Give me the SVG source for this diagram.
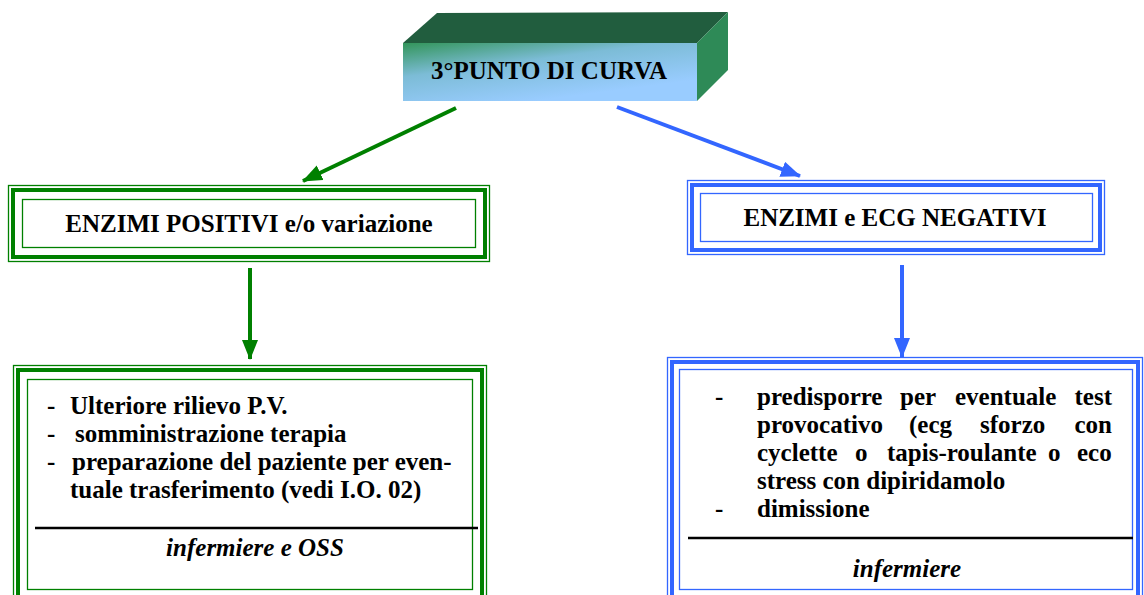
<svg xmlns="http://www.w3.org/2000/svg" width="1144" height="595" viewBox="0 0 1144 595">
<style>
  .t { font-family: "Liberation Serif", "Times New Roman", serif; font-weight: bold; font-size: 25px; fill: #000; }
  .it { font-style: italic; }
  .gthin { fill: none; stroke: #008000; stroke-width: 1.3; }
  .gthick { fill: none; stroke: #008000; stroke-width: 4; }
  .bthin { fill: none; stroke: #3366ff; stroke-width: 1.3; }
  .bthick { fill: none; stroke: #3366ff; stroke-width: 4; }
  .div { stroke: #000; stroke-width: 2.5; }
  .gline { stroke: #008000; stroke-width: 4; fill: none; }
  .bline { stroke: #3366ff; stroke-width: 4; fill: none; }
</style>
<defs>
  <linearGradient id="front" x1="0" y1="0" x2="0.6" y2="0.9">
    <stop offset="0" stop-color="#33955a"/>
    <stop offset="0.45" stop-color="#7cbcd6"/>
    <stop offset="1" stop-color="#99ccff"/>
  </linearGradient>
  <marker id="ag" markerUnits="userSpaceOnUse" markerWidth="22" markerHeight="18" refX="19" refY="8" orient="auto">
    <path d="M0,0 L20,8 L0,16 z" fill="#008000"/>
  </marker>
  <marker id="ab" markerUnits="userSpaceOnUse" markerWidth="22" markerHeight="18" refX="19" refY="8" orient="auto">
    <path d="M0,0 L20,8 L0,16 z" fill="#3366ff"/>
  </marker>
</defs>
<rect width="1144" height="595" fill="#fff"/>

<g id="title">
  <polygon points="403,43 437,13 728,12 697,43" fill="#215d3e"/>
  <polygon points="697,43 728,12 728,70 697,101" fill="#2e8a57"/>
  <rect x="403" y="43" width="294" height="58" fill="url(#front)"/>
  <text class="t" x="549" y="79" text-anchor="middle">3°PUNTO DI CURVA</text>
</g>

<g id="connectors">
  <line class="gline" x1="456" y1="108" x2="303" y2="181" marker-end="url(#ag)"/>
  <line class="bline" x1="617" y1="107" x2="800" y2="176" marker-end="url(#ab)"/>
  <line class="gline" x1="250" y1="268" x2="250" y2="359" marker-end="url(#ag)"/>
  <line class="bline" x1="902" y1="265" x2="902" y2="357" marker-end="url(#ab)"/>
</g>

<g id="enzimi-positivi">
  <rect class="gthin" x="8.5" y="185.5" width="481" height="76"/>
  <rect class="gthick" x="13" y="190" width="472" height="67"/>
  <rect class="gthin" x="22.5" y="199.5" width="453" height="48"/>
  <text class="t" x="249" y="232" text-anchor="middle">ENZIMI POSITIVI e/o variazione</text>
</g>

<g id="enzimi-negativi">
  <rect class="bthin" x="687.5" y="180.5" width="417" height="74"/>
  <rect class="bthick" x="692" y="185" width="408" height="65"/>
  <rect class="bthin" x="700.5" y="193.5" width="392" height="48"/>
  <text class="t" x="895" y="226" text-anchor="middle">ENZIMI e ECG NEGATIVI</text>
</g>

<g id="azioni-positivi">
  <rect class="gthin" x="13.5" y="365.5" width="473" height="240"/>
  <rect class="gthick" x="18" y="370" width="464" height="231"/>
  <rect class="gthin" x="27.5" y="379.5" width="445" height="210"/>
  <text class="t"><tspan x="47" y="414">-</tspan><tspan x="70" y="414">Ulteriore rilievo P.V.</tspan></text>
  <text class="t"><tspan x="47" y="442">-</tspan><tspan x="75" y="442">somministrazione terapia</tspan></text>
  <text class="t"><tspan x="47" y="470">-</tspan><tspan x="72" y="470">preparazione del paziente per even-</tspan></text>
  <text class="t" x="70" y="498">tuale trasferimento (vedi I.O. 02)</text>
  <line class="div" x1="35" y1="528" x2="478" y2="528"/>
  <text class="t it" x="255" y="556" text-anchor="middle">infermiere e OSS</text>
</g>

<g id="azioni-negativi">
  <rect class="bthin" x="667.5" y="357.5" width="475" height="248"/>
  <rect class="bthick" x="672" y="362" width="466" height="239"/>
  <rect class="bthin" x="679.5" y="369.5" width="453" height="220"/>
  <text class="t" x="715" y="405">-</text>
  <text class="t"><tspan x="757" y="405">predisporre</tspan><tspan x="900" y="405">per</tspan><tspan x="955" y="405">eventuale</tspan><tspan x="1074.5" y="405">test</tspan></text>
  <text class="t"><tspan x="757" y="433">provocativo</tspan><tspan x="909" y="433">(ecg</tspan><tspan x="980" y="433">sforzo</tspan><tspan x="1074.5" y="433">con</tspan></text>
  <text class="t"><tspan x="757" y="461">cyclette</tspan><tspan x="855" y="461">o</tspan><tspan x="887" y="461">tapis-roulante</tspan><tspan x="1048" y="461">o</tspan><tspan x="1077" y="461">eco</tspan></text>
  <text class="t" x="757" y="489">stress con dipiridamolo</text>
  <text class="t" x="715" y="517">-</text>
  <text class="t" x="757" y="517">dimissione</text>
  <line class="div" x1="688" y1="538" x2="1133" y2="538"/>
  <text class="t it" x="907" y="577" text-anchor="middle">infermiere</text>
</g>
</svg>
